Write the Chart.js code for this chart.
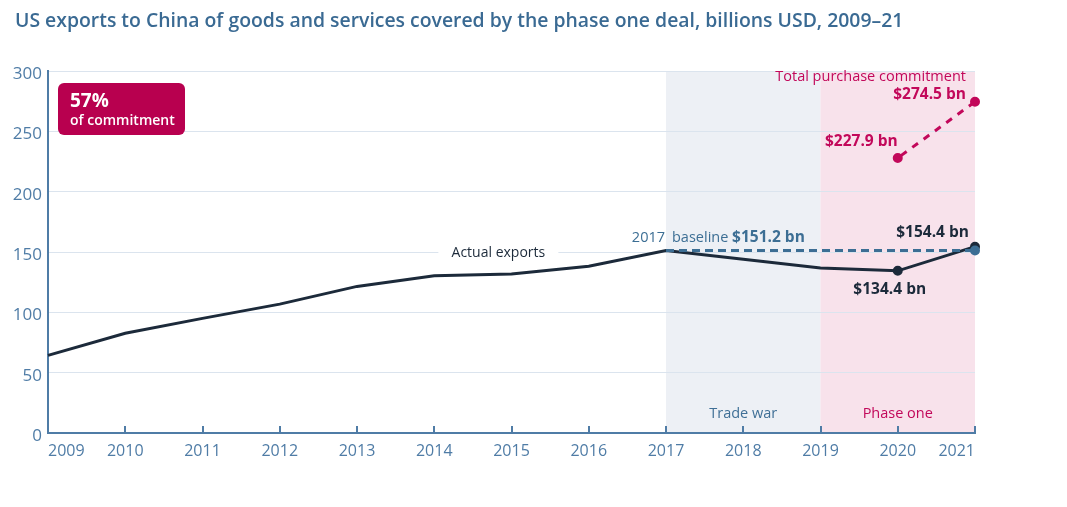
<!DOCTYPE html>
<html>
<head>
<meta charset="utf-8">
<script src="https://cdn.jsdelivr.net/npm/chart.js@4.4.1/dist/chart.umd.min.js"></script>
<style>
  html, body { margin: 0; padding: 0; background: #fff; }
  #wrap { width: 1067px; height: 507px; }
</style>
</head>
<body>
<div id="wrap"><canvas id="exportsChart" width="1067" height="507"></canvas></div>
<script>
const years = ['2009', '2010', '2011', '2012', '2013', '2014', '2015', '2016', '2017', '2018', '2019', '2020', '2021'];
const actualExports = [64.3, 82.7, 95, 106.8, 121.5, 130.3, 131.7, 138.2, 151.2, 144, 136.8, 134.4, 154.4];
const baseline2017 = [null, null, null, null, null, null, null, null, 151.2, 151.2, 151.2, 151.2, 151.2];
const commitment = [null, null, null, null, null, null, null, null, null, null, null, 227.9, 274.5];
const periods = [
    { label: 'Trade war', from: 8, to: 10, fill: '#edf0f5', text: '#3f6f96' },
    { label: 'Phase one', from: 10, to: 12, fill: '#f8e2eb', text: '#c2085a' }
];

const FONT = "'Open Sans', sans-serif";
const NAVY = '#1c2a3a';
const STEEL = '#3c6e94';
const PINK = '#c2085a';
const AXIS = '#4f7ca6';

function txt(c, s, x, y, font, color, align) {
    c.font = font;
    c.fillStyle = color;
    c.textAlign = align || 'left';
    c.textBaseline = 'middle';
    c.fillText(s, x, y);
}

const decorations = {
    id: 'decorations',
    beforeDraw(chart) {
        const c = chart.ctx, a = chart.chartArea, x = chart.scales.x;
        c.save();
        periods.forEach(p => {
            c.fillStyle = p.fill;
            const x0 = x.getPixelForValue(p.from), x1 = x.getPixelForValue(p.to);
            c.fillRect(x0, a.top, x1 - x0, a.bottom - a.top);
        });
        txt(c, 'US exports to China of goods and services covered by the phase one deal, billions USD, 2009\u201321',
            15, 21, "600 19.4px " + FONT, '#3a6a93');
        c.restore();
    },
    beforeDatasetsDraw(chart) {
        const c = chart.ctx, x = chart.scales.x, y = chart.scales.y;
        c.save();
        // gap in the gridline behind the series label
        const lx = x.getPixelForValue(5.83), ly = y.getPixelForValue(150);
        c.fillStyle = '#fff';
        c.fillRect(lx - 60, ly - 3, 120, 6);
        txt(c, 'Actual exports', lx, ly + 1, "14px " + FONT, NAVY, 'center');
        c.restore();
    },
    afterDraw(chart) {
        const c = chart.ctx, a = chart.chartArea, x = chart.scales.x, y = chart.scales.y;
        c.save();
        // ticks pointing up from the x axis
        c.strokeStyle = AXIS;
        c.lineWidth = 2;
        years.forEach((yr, i) => {
            const px = Math.round(x.getPixelForValue(i));
            c.beginPath();
            c.moveTo(px, a.bottom);
            c.lineTo(px, a.bottom - 7);
            c.stroke();
        });
        periods.forEach(p => {
            const mx = (x.getPixelForValue(p.from) + x.getPixelForValue(p.to)) / 2;
            txt(c, p.label, mx, a.bottom - 19, "14.5px " + FONT, p.text, 'center');
        });

        // value labels
        const px = i => x.getPixelForValue(i), py = v => y.getPixelForValue(v);
        const bold = "700 15.5px " + FONT;
        txt(c, '$154.4 bn', px(12) - 6, py(actualExports[12]) - 14, bold, NAVY, 'right');
        txt(c, '$134.4 bn', px(11) - 8, py(actualExports[11]) + 19, bold, NAVY, 'center');
        txt(c, '$227.9 bn', px(11), py(commitment[11]) - 16, bold, PINK, 'right');
        txt(c, '$274.5 bn', px(12) - 9, py(commitment[12]) - 7, bold, PINK, 'right');
        txt(c, 'Total purchase commitment', px(12) - 9, py(commitment[12]) - 25, "14.5px " + FONT, PINK, 'right');

        // baseline label
        const bx = px(8), by = py(baseline2017[8]) - 13;
        txt(c, '2017', bx - 1, by, "14.5px " + FONT, STEEL, 'right');
        c.font = "14.5px " + FONT;
        const w = c.measureText('baseline ').width;
        txt(c, 'baseline ', bx + 6, by, "14.5px " + FONT, STEEL, 'left');
        txt(c, '$151.2 bn', bx + 6 + w, by, bold, STEEL, 'left');

        // commitment share box
        c.fillStyle = '#b8004f';
        c.beginPath();
        c.roundRect(58, 83, 127, 52, 6);
        c.fill();
        txt(c, '57%', 70, 102, "700 19px " + FONT, '#fff');
        txt(c, 'of commitment', 70, 121, "600 14px " + FONT, '#fff');
        c.restore();
    }
};

new Chart(document.getElementById('exportsChart'), {
    type: 'line',
    data: {
        labels: years,
        datasets: [
            {
                label: '2017 baseline',
                data: baseline2017,
                borderColor: STEEL,
                backgroundColor: STEEL,
                borderWidth: 3,
                borderDash: [8, 5],
                pointRadius: baseline2017.map((v, i) => i === 12 ? 3.5 : 0),
                spanGaps: false
            },
            {
                label: 'Total purchase commitment',
                data: commitment,
                borderColor: PINK,
                backgroundColor: PINK,
                borderWidth: 3,
                borderDash: [7, 7],
                borderDashOffset: -4,
                pointRadius: 3.5
            },
            {
                label: 'Actual exports',
                data: actualExports,
                borderColor: NAVY,
                backgroundColor: NAVY,
                borderWidth: 3,
                tension: 0,
                pointRadius: actualExports.map((v, i) => i >= 11 ? 3.5 : 0)
            }
        ]
    },
    options: {
        responsive: false,
        animation: false,
        devicePixelRatio: 1,
        layout: { padding: { left: 0, right: 92, top: 71, bottom: 0 } },
        plugins: {
            legend: { display: false },
            tooltip: { enabled: false }
        },
        scales: {
            x: {
                offset: false,
                afterFit(scale) { scale.height = 74; },
                grid: { display: false, drawTicks: false },
                border: { color: AXIS, width: 2 },
                ticks: {
                    align: 'inner',
                    padding: 9,
                    color: AXIS,
                    maxRotation: 0,
                    autoSkip: false,
                    font: { family: FONT, size: 16 }
                }
            },
            y: {
                min: 0,
                max: 300,
                afterFit(scale) { scale.width = 48; },
                grid: {
                    color: ctx => ctx.tick.value === 0 ? 'rgba(0,0,0,0)' : '#dbe4ee',
                    lineWidth: 1,
                    drawTicks: false
                },
                border: { color: AXIS, width: 2 },
                ticks: {
                    stepSize: 50,
                    padding: 6,
                    labelOffset: 3,
                    color: AXIS,
                    font: { family: FONT, size: 17 }
                }
            }
        }
    },
    plugins: [decorations]
});
</script>
</body>
</html>
